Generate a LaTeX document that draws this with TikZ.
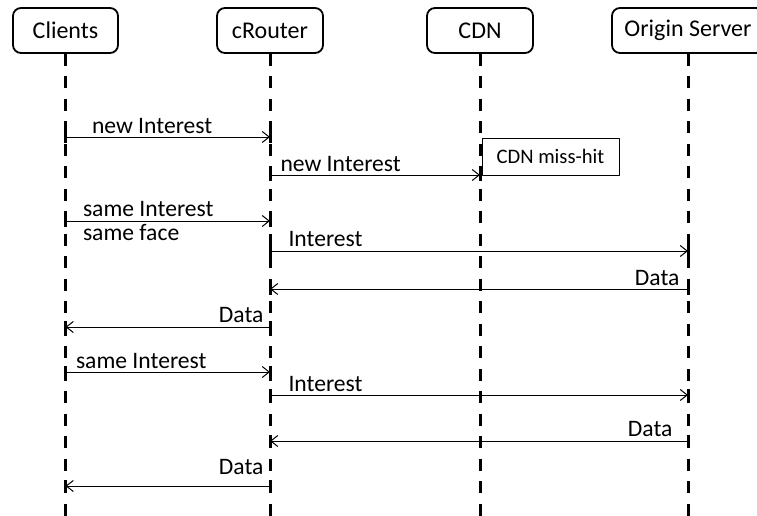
\documentclass[tikz,border=0pt]{standalone}
\usepackage{fontspec}
\setmainfont{Carlito}
\usepackage{tikz}
\usetikzlibrary{arrows.meta,positioning}
\tikzset{
  actor/.style={draw, rounded corners=8pt, line width=1.8pt, minimum height=45pt, inner sep=2pt, font=\fontsize{24}{28}\selectfont},
  lifeline/.style={line width=3pt, dash pattern=on 12pt off 10.5pt},
  tick/.style={line width=3pt},
  msg/.style={line width=1pt, -{Straight Barb[length=7pt,width=11pt,line width=1pt]}},
  lbl/.style={inner sep=0pt, font=\fontsize{23.6}{28}\selectfont},
  note/.style={draw, line width=1pt, minimum width=137pt, minimum height=37pt, inner sep=0pt, font=\fontsize{20.6}{24}\selectfont},
  every picture/.style={line cap=butt, line join=round}
}
\begin{document}
\begin{tikzpicture}[x=1pt,y=-1pt]
  \useasboundingbox (0,0) rectangle (757,516);
  \clip (0,0) rectangle (757,516);

  \node[actor, minimum width=105pt] (clients) at (65.5,30.5) {Clients};
  \node[actor, minimum width=106pt] (crouter) at (270,30.5) {cRouter};
  \node[actor, minimum width=106pt] (cdn) at (480,30.5) {CDN};
  \node[actor, minimum width=152pt] (origin) at (688,30.5) {Origin Server};

  % lifelines
  \draw[lifeline] (clients.south) -- (clients |- 0,520);
  \draw[lifeline] (crouter.south) -- (crouter |- 0,520);
  \draw[lifeline] (cdn.south) -- (cdn |- 0,520);
  \draw[lifeline] (origin.south) -- (origin |- 0,520);

  \node[note] (miss) at (550.5,156.5) {CDN miss-hit};

  % first request
  \draw[msg] (clients |- 0,137) -- node[lbl, pos=0, anchor=base west, xshift=26pt, yshift=4pt] {new Interest} (crouter |- 0,137);
  \draw[msg] (crouter |- 0,175) -- node[lbl, pos=0, anchor=base west, xshift=10pt, yshift=3.5pt] {new Interest} (cdn |- 0,175);

  % aggregated request
  \draw[msg] (clients |- 0,221) -- node[lbl, pos=0, anchor=base west, xshift=17pt, yshift=4.3pt] {same Interest}
    node[lbl, pos=0, anchor=base west, xshift=17pt, yshift=-19pt] {same face} (crouter |- 0,221);
  \draw[msg] (crouter |- 0,251) -- node[lbl, pos=0, anchor=base west, xshift=18pt, yshift=4.3pt] {Interest} (origin |- 0,251);
  \draw[msg] (origin |- 0,289) -- node[lbl, pos=0, anchor=base east, xshift=-8pt, yshift=4pt] {Data} (crouter |- 0,289);
  \draw[msg] (crouter |- 0,327) -- node[lbl, pos=0, anchor=base east, xshift=-6pt, yshift=4.3pt] {Data} (clients |- 0,327);

  % later request
  \draw[msg] (clients |- 0,372) -- node[lbl, pos=0, anchor=base west, xshift=10pt, yshift=4pt] {same Interest} (crouter |- 0,372);
  \draw[msg] (crouter |- 0,395) -- node[lbl, pos=0, anchor=base west, xshift=18pt, yshift=3.3pt] {Interest} (origin |- 0,395);
  \draw[msg] (origin |- 0,441) -- node[lbl, pos=0, anchor=base east, xshift=-15pt, yshift=5pt] {Data} (crouter |- 0,441);
  \draw[msg] (crouter |- 0,486) -- node[lbl, pos=0, anchor=base east, xshift=-6pt, yshift=12pt] {Data} (clients |- 0,486);

  % ticks at message ends
  \foreach \a/\b/\y in {clients/crouter/137, crouter/cdn/175, clients/crouter/221,
      crouter/origin/251, crouter/origin/289, clients/crouter/327, clients/crouter/372,
      crouter/origin/395, crouter/origin/441, clients/crouter/486}{
    \draw[tick] (\a |- 0,\y-6) -- (\a |- 0,\y+6);
    \draw[tick] (\b |- 0,\y-6) -- (\b |- 0,\y+6);
  }
\end{tikzpicture}
\end{document}
